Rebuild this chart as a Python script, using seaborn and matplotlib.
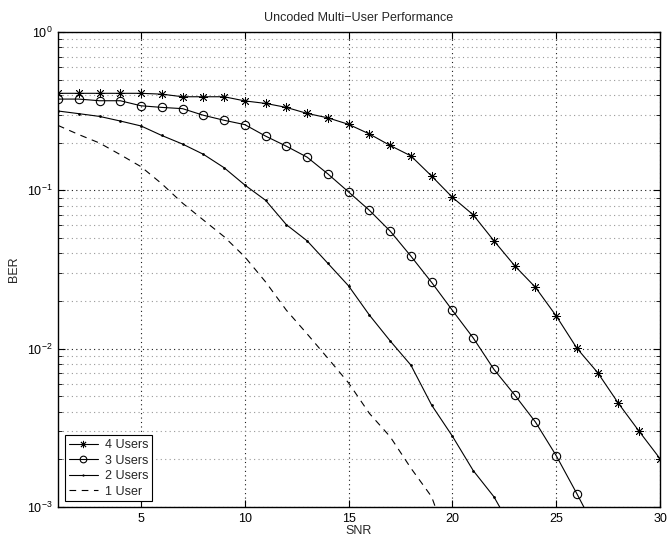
import numpy as np
import pandas as pd
import matplotlib
matplotlib.use("Agg")
import matplotlib.pyplot as plt
import seaborn as sns
from matplotlib.ticker import LogLocator, FixedLocator, NullFormatter

# data
snr = list(range(1, 31))
ber_4users = [0.41, 0.41, 0.41, 0.41, 0.41, 0.405, 0.39, 0.39, 0.39, 0.367,
              0.354, 0.334, 0.306, 0.287, 0.261, 0.227, 0.192, 0.165, 0.123, 0.0903,
              0.0701, 0.048, 0.0334, 0.0244, 0.0161, 0.01005, 0.00705, 0.00451, 0.0030, 0.00202]
ber_3users = [0.377, 0.377, 0.368, 0.368, 0.342, 0.334, 0.328, 0.298, 0.277, 0.26,
              0.22, 0.19, 0.162, 0.127, 0.0976, 0.0748, 0.0553, 0.0384, 0.0262, 0.01745,
              0.0117, 0.0074, 0.0051, 0.00344, 0.00211, 0.00121, 0.00068]
ber_2users = [0.317, 0.305, 0.293, 0.274, 0.255, 0.222, 0.196, 0.169, 0.139, 0.108,
              0.0865, 0.0607, 0.048, 0.0346, 0.0249, 0.0163, 0.0112, 0.00787, 0.0044, 0.0028,
              0.0017, 0.00116, 0.00068]
ber_1user = [0.257, 0.225, 0.199, 0.168, 0.141, 0.11, 0.083, 0.065, 0.051, 0.038,
             0.0264, 0.0175, 0.0124, 0.0087, 0.00607, 0.0039, 0.00278, 0.00176, 0.00116, 0.0005]

sns.set_style("white")
plt.rcParams['font.family'] = ['Liberation Sans', 'DejaVu Sans']
plt.rcParams['font.size'] = 9
plt.rcParams['mathtext.default'] = 'regular'

fig = plt.figure(figsize=(6.68, 5.42), dpi=100)
ax = fig.add_axes([58 / 668, 1 - 507 / 542, 602 / 668, 475 / 542])

sns.lineplot(x=snr, y=ber_4users, ax=ax, color='k', lw=0.8, marker=(8, 2, 0),
             markersize=6.5, markeredgewidth=0.6, markeredgecolor='k', label='4 Users')
sns.lineplot(x=snr[:len(ber_3users)], y=ber_3users, ax=ax, color='k', lw=0.8, marker='o',
             markersize=6, markerfacecolor='none', markeredgecolor='k',
             markeredgewidth=0.8, label='3 Users')
sns.lineplot(x=snr[:len(ber_2users)], y=ber_2users, ax=ax, color='k', lw=0.8, marker='.',
             markersize=4, markeredgewidth=0, label='2 Users')
sns.lineplot(x=snr[:len(ber_1user)], y=ber_1user, ax=ax, color='k', lw=0.8,
             linestyle=(0, (6, 5)), label='1 User')

ax.set_yscale('log')
ax.set_xlim(1, 30)
ax.set_ylim(1e-3, 1)
ax.xaxis.set_major_locator(FixedLocator([5, 10, 15, 20, 25, 30]))
ax.yaxis.set_major_locator(LogLocator(base=10, numticks=10))
ax.yaxis.set_minor_locator(LogLocator(base=10, subs=np.arange(2, 10), numticks=20))
ax.yaxis.set_minor_formatter(NullFormatter())

ax.grid(True, which='major', axis='both', color='0.1', linestyle=(0, (1, 3)), linewidth=0.8)
ax.grid(True, which='minor', axis='y', color='0.6', linestyle=(0, (1, 3)), linewidth=0.8)

ax.tick_params(which='both', direction='in', top=True, right=True, bottom=True, left=True,
               labelsize=9, colors='k')
ax.tick_params(which='major', length=5, width=0.8, pad=4)
ax.tick_params(which='minor', length=3, width=0.6)
for s in ax.spines.values():
    s.set_color('k')
    s.set_linewidth(1.0)

ax.set_title('Uncoded Multi\u2212User Performance', fontsize=9, pad=8)
ax.set_xlabel('SNR', fontsize=9, labelpad=0)
ax.set_ylabel('BER', fontsize=9, labelpad=5)

leg = ax.legend(loc='lower left', bbox_to_anchor=(0.012, 0.012), fontsize=9,
                frameon=True, fancybox=False, edgecolor='k', framealpha=1,
                borderpad=0.3, labelspacing=0.28, handlelength=2.3,
                handletextpad=0.6, borderaxespad=0, markerscale=0.8)
leg.get_frame().set_linewidth(0.8)

fig.savefig('out.png', dpi=100)
